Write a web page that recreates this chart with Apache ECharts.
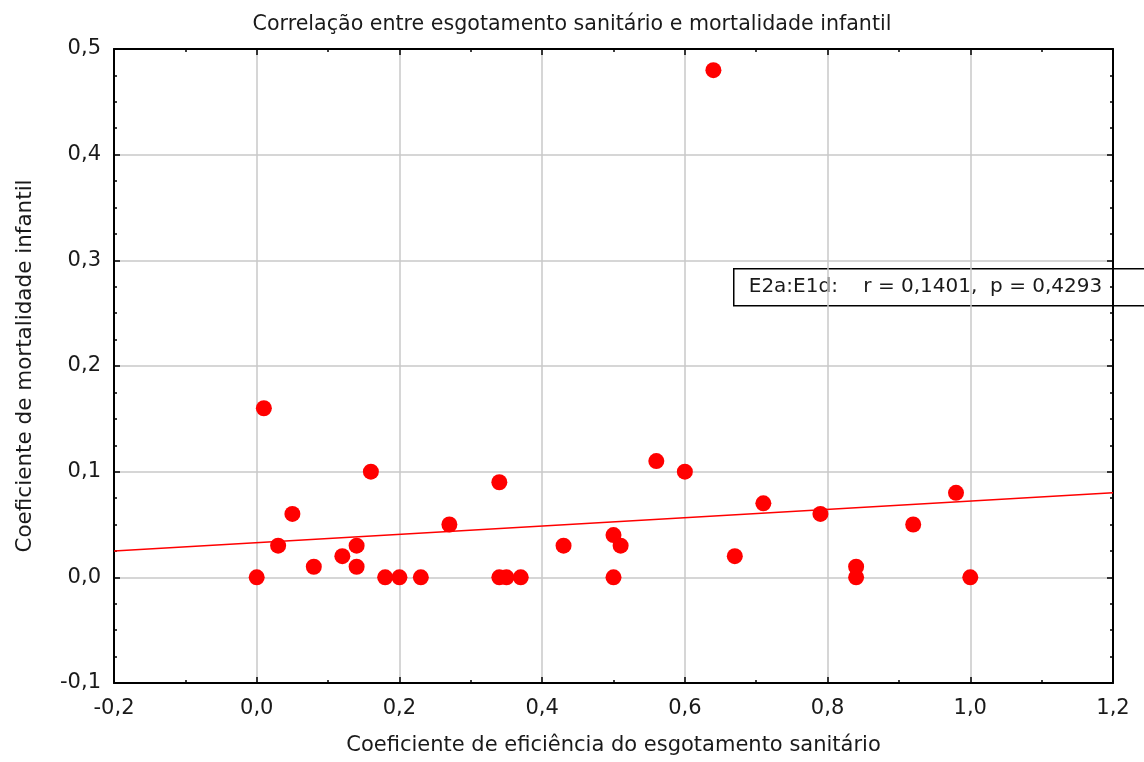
<!DOCTYPE html>
<html>
<head>
<meta charset="utf-8">
<script src="https://cdn.jsdelivr.net/npm/echarts@6/dist/echarts.min.js"></script>
<style>html,body{margin:0;padding:0;background:#fff}#c{width:1144px;height:762px}</style>
</head>
<body>
<div id="c"></div>
<script>
var titleText = 'Correlação entre esgotamento sanitário e mortalidade infantil';
var xName = 'Coeficiente de eficiência do esgotamento sanitário';
var yName = 'Coeficiente de mortalidade infantil';
var statText = 'E2a:E1d:    r = 0,1401,  p = 0,4293';

var xTickLabels = ['-0,2','0,0','0,2','0,4','0,6','0,8','1,0','1,2'];
var yTickLabels = ['-0,1','0,0','0,1','0,2','0,3','0,4','0,5'];

var sanitX = [0.00,0.01,0.03,0.05,0.08,0.12,0.14,0.14,0.16,0.18,0.20,0.23,0.27,0.34,0.34,0.35,0.37,0.43,0.50,0.51,0.50,0.56,0.60,0.64,0.67,0.71,0.79,0.84,0.84,0.92,0.98,1.00];
var mortY  = [0.00,0.16,0.03,0.06,0.01,0.02,0.03,0.01,0.10,0.00,0.00,0.00,0.05,0.09,0.00,0.00,0.00,0.03,0.04,0.03,0.00,0.11,0.10,0.48,0.02,0.07,0.06,0.01,0.00,0.05,0.08,0.00];

var fitX = [-0.2, 1.2];
var fitY = [0.025, 0.080];

var pts = sanitX.map(function(v,i){return [v, mortY[i]];});
var fitPts = fitX.map(function(v,i){return [v, fitY[i]];});

var font = 'DejaVu Sans, Liberation Sans, sans-serif';
var txt = '#1a1a1a';

function xl(v){var i=Math.round((v+0.2)/0.2);return xTickLabels[i]||'';}
function yl(v){var i=Math.round((v+0.1)/0.1);return yTickLabels[i]||'';}

var baseX = {type:'value',min:-0.2,max:1.2,interval:0.2};
var baseY = {type:'value',min:-0.1,max:0.5,interval:0.1};

var chart = echarts.init(document.getElementById('c'));
chart.setOption({
  animation:false,
  backgroundColor:'#fff',
  title:{text:titleText,left:'center',top:9,textStyle:{fontFamily:font,fontSize:20.6,fontWeight:'normal',color:txt}},
  grid:{left:114,top:49,right:31,bottom:79,containLabel:false},
  xAxis:[
    Object.assign({},baseX,{position:'bottom',name:xName,nameLocation:'middle',nameGap:52,
      nameTextStyle:{fontFamily:font,fontSize:21,color:txt},
      axisLine:{show:true,onZero:false,lineStyle:{color:'#000',width:2}},
      axisTick:{show:true,inside:true,length:6,lineStyle:{color:'#000',width:1.5}},
      minorTick:{show:true,splitNumber:2,length:3,lineStyle:{color:'#000',width:1.5}},
      axisLabel:{formatter:xl,margin:15,fontFamily:font,fontSize:21,color:txt},
      splitLine:{show:true,lineStyle:{color:'#c8c8c8',width:1.5}}}),
    Object.assign({},baseX,{position:'top',
      axisLine:{show:true,onZero:false,lineStyle:{color:'#000',width:2}},
      axisTick:{show:true,inside:true,length:6,lineStyle:{color:'#000',width:1.5}},
      minorTick:{show:true,splitNumber:2,length:3,lineStyle:{color:'#000',width:1.5}},
      axisLabel:{show:false},splitLine:{show:false}})
  ],
  yAxis:[
    Object.assign({},baseY,{position:'left',name:yName,nameLocation:'middle',nameGap:78,
      nameTextStyle:{fontFamily:font,fontSize:21.5,color:txt},
      axisLine:{show:true,onZero:false,lineStyle:{color:'#000',width:2}},
      axisTick:{show:true,inside:true,length:6,lineStyle:{color:'#000',width:1.5}},
      minorTick:{show:true,splitNumber:4,length:3,lineStyle:{color:'#000',width:1.5}},
      axisLabel:{formatter:yl,margin:13,fontFamily:font,fontSize:21,color:txt},
      splitLine:{show:true,lineStyle:{color:'#c8c8c8',width:1.5}}}),
    Object.assign({},baseY,{position:'right',
      axisLine:{show:true,onZero:false,lineStyle:{color:'#000',width:2}},
      axisTick:{show:true,inside:true,length:6,lineStyle:{color:'#000',width:1.5}},
      minorTick:{show:true,splitNumber:4,length:3,lineStyle:{color:'#000',width:1.5}},
      axisLabel:{show:false},splitLine:{show:false}})
  ],
  series:[
    {type:'line',data:fitPts,xAxisIndex:0,yAxisIndex:0,showSymbol:false,symbol:'none',
      lineStyle:{color:'#ff0000',width:1.5},z:2,silent:true},
    {type:'scatter',data:pts,xAxisIndex:0,yAxisIndex:0,symbol:'circle',symbolSize:16,
      itemStyle:{color:'#ff0000',opacity:1},z:3}
  ],
  graphic:[
    {type:'group',left:733,top:268,children:[
      {type:'rect',shape:{x:0,y:0,width:430,height:37},style:{fill:'#fff',stroke:'#000',lineWidth:1.5}},
      {type:'text',x:15,y:18.5,style:{text:statText,fontFamily:font,fontSize:20,fill:txt,verticalAlign:'middle'}}
    ]}
  ]
});
</script>
</body>
</html>
